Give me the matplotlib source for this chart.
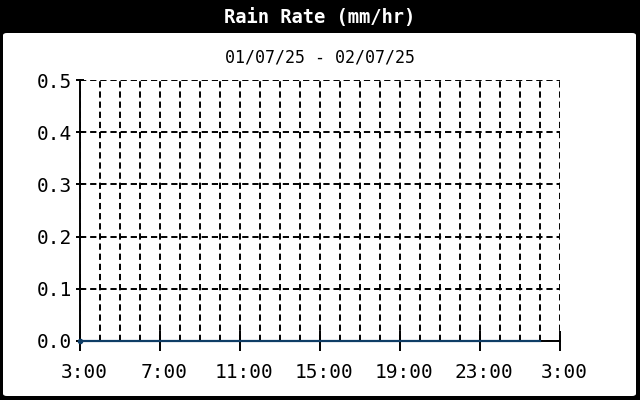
import matplotlib.pyplot as plt
import numpy as np
import matplotlib.transforms as mtrans
from matplotlib.patches import FancyBboxPatch

plt.rcParams['font.family'] = 'DejaVu Sans Mono'
plt.rcParams['lines.scale_dashes'] = False

# hourly rain rate from 3:00 to 2:00 next day
hours = list(range(24))
rain_rate = [0.0] * 24
tick_hours = [0, 4, 8, 12, 16, 20, 24]
tick_labels = ['3:00', '7:00', '11:00', '15:00', '19:00', '23:00', '3:00']
y_ticks = [0.0, 0.1, 0.2, 0.3, 0.4, 0.5]

fig = plt.figure(figsize=(6.4, 4), dpi=100, facecolor='black')

# white panel with rounded corners
panel = FancyBboxPatch((3 / 640, 4 / 400), 633 / 640, 363 / 400,
                       boxstyle='round,pad=0,rounding_size=0.006',
                       transform=fig.transFigure, facecolor='white',
                       edgecolor='none', zorder=-10)
fig.patches.append(panel)

fig.text(0.5, 1 - 17 / 400, 'Rain Rate (mm/hr)', color='white',
         fontsize=13.5, fontweight='bold', ha='center', va='center')
fig.text(0.5, 1 - 58 / 400, '01/07/25 - 02/07/25', color='black',
         fontsize=12, ha='center', va='center')

ax = fig.add_axes([80 / 640, 59 / 400, 480 / 640, 261 / 400])
ax.set_facecolor('none')

ax.plot(hours, rain_rate, color='#0f3d66', lw=1.6, zorder=3, clip_on=False)
ax.plot(hours[:1], rain_rate[:1], 'o', color='#0f3d66', ms=3, zorder=4,
        clip_on=False)

ax.set_xlim(0, 24)
ax.set_ylim(0, 0.5)
ax.set_xticks(tick_hours)
ax.set_xticklabels(tick_labels)
ax.set_xticks(range(25), minor=True)
ax.set_yticks(y_ticks)
ax.set_yticklabels(['%.1f' % v for v in y_ticks])

dash = (0, (4.5, 2.8))
ax.grid(True, which='both', axis='x', color='black', lw=1.4, linestyle=dash)
ax.grid(True, which='major', axis='y', color='black', lw=1.4, linestyle=dash)

for side in ['top', 'right']:
    ax.spines[side].set_visible(False)
for side in ['left', 'bottom']:
    ax.spines[side].set_linewidth(1.4)

ax.tick_params(axis='x', which='major', direction='inout', length=15,
               width=1.4, labelsize=14, pad=8)
ax.tick_params(axis='x', which='minor', length=0)
ax.tick_params(axis='y', direction='inout', length=6, width=1.4,
               labelsize=14, pad=3)

# labels sit a little right of their ticks
shift = mtrans.ScaledTranslation(4 / 100, 0, fig.dpi_scale_trans)
for lab in ax.get_xticklabels():
    lab.set_transform(lab.get_transform() + shift)

fig.savefig('out.png', dpi=100, facecolor='black')
